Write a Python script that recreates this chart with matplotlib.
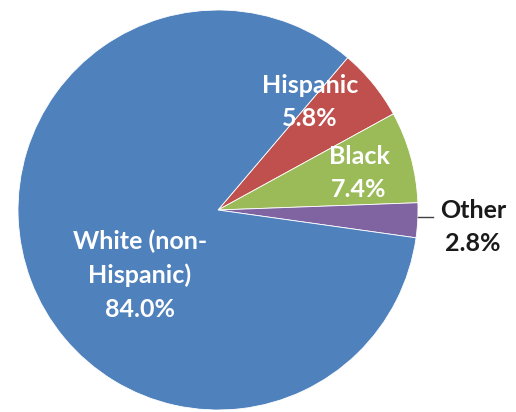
import matplotlib.pyplot as plt
import numpy as np

# population share by group
groups = ['Hispanic', 'Black', 'Other', 'White (non-\nHispanic)']
shares = [5.8, 7.4, 2.8, 84.0]
pct_labels = ['5.8%', '7.4%', '2.8%', '84.0%']
colors = ['#C0504D', '#9BBB59', '#8064A2', '#4F81BD']

plt.rcParams['font.family'] = ['Lato', 'DejaVu Sans']

fig = plt.figure(figsize=(5.16, 4.12), dpi=100)
ax = fig.add_axes([18 / 516, 2 / 412, 400 / 516, 400 / 412])

wedges, _ = ax.pie(shares, colors=colors, startangle=49.6, counterclock=False,
                   radius=1.0, wedgeprops=dict(edgecolor='white', linewidth=0.6))

ax.set_xlim(-1, 1)
ax.set_ylim(-1, 1)
ax.set_aspect('equal')
ax.axis('off')

# label positions (data coords), white inside, black outside for "Other"
label_pos = [(0.46, 0.54), (0.705, 0.185), (1.275, -0.085), (-0.39, -0.325)]
label_col = ['white', 'white', '#1a1a1a', 'white']
for g, p, pos, c in zip(groups, pct_labels, label_pos, label_col):
    ax.text(pos[0], pos[1], g + '\n' + p, ha='center', va='center', color=c,
            fontsize=18, fontweight='bold', linespacing=1.55, clip_on=False)

# leader line for the small slice
w = wedges[2]
mid = np.deg2rad((w.theta1 + w.theta2) / 2)
x0, y0 = np.cos(mid), np.sin(mid)
ax.plot([x0, x0 + 0.075], [y0 + 0.015, y0 + 0.015], color='#404040', lw=1, clip_on=False)

fig.savefig('out.png', dpi=100)
